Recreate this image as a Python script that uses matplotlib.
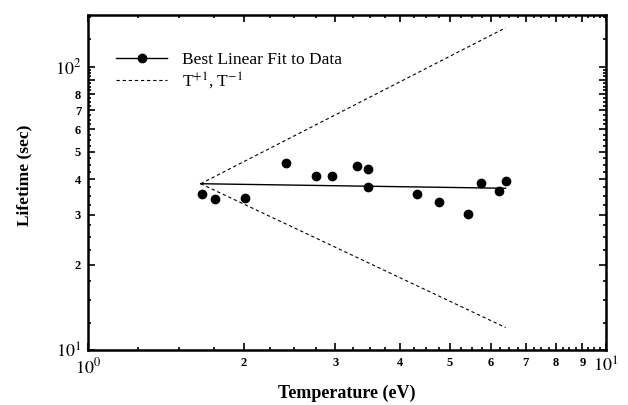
import numpy as np
import matplotlib
matplotlib.use("Agg")
import matplotlib.pyplot as plt
from matplotlib.ticker import FixedLocator, FixedFormatter

plt.rcParams['font.family'] = ['Liberation Serif', 'DejaVu Serif']
plt.rcParams['mathtext.fontset'] = 'stix'

# measured data points (temperature in eV, lifetime in sec)
temp = [1.66, 1.76, 2.01, 2.41, 2.76, 2.96, 3.31, 3.47, 3.47,
        4.31, 4.77, 5.42, 5.73, 6.22, 6.42]
lifetime = [35.5, 34.0, 34.5, 45.7, 41.1, 41.1, 44.7, 43.5, 37.5,
            35.5, 33.3, 30.2, 38.9, 36.4, 39.6]

# best linear fit endpoints
fit_t = [1.65, 6.4]
fit_life = [38.6, 37.2]

# T^+1 and T^-1 guide lines
guide_t = [1.65, 6.4]
guide_up = [38.6, 137.0]
guide_down = [38.6, 12.0]

x_major = [1, 2, 3, 4, 5, 6, 7, 8, 9, 10]
x_labels = ['$10^0$', '2', '3', '4', '5', '6', '7', '8', '9', '$10^1$']
y_major = [10, 20, 30, 40, 50, 60, 70, 80, 90, 100]
y_labels = ['$10^1$', '2', '3', '4', '5', '6', '7', '8', '', '$10^2$']

fig = plt.figure(figsize=(6.28, 4.05), dpi=100)
ax = fig.add_axes([0.1401, 0.1358, 0.8249, 0.8272])

ax.plot(temp, lifetime, 'o', color='black', markersize=6)
ax.plot(fit_t, fit_life, '-', color='black', lw=1.0)
ax.plot(guide_t, guide_up, '--', color='black', lw=0.8, dashes=(3, 2.5))
ax.plot(guide_t, guide_down, '--', color='black', lw=0.8, dashes=(3, 2.5))

# legend proxies
ax.plot([], [], '-o', color='black', lw=1.0, markersize=6, label='Best Linear Fit to Data')
ax.plot([], [], '--', color='black', lw=0.8, dashes=(3, 2.5), label=r'T$^{+1}$, T$^{-1}$')
handles, labs = ax.get_legend_handles_labels()
ax.legend(handles[-2:], labs[-2:], loc='upper left', bbox_to_anchor=(0.055, 0.89),
          frameon=False, fontsize=12.5, handlelength=2.9, handletextpad=0.9,
          borderaxespad=0, borderpad=0, labelspacing=0.1)

ax.set_xscale('log')
ax.set_yscale('log')
ax.set_xlim(1, 10)
ax.set_ylim(10, 152)

ax.xaxis.set_major_locator(FixedLocator(x_major))
ax.xaxis.set_major_formatter(FixedFormatter(x_labels))
x_minor = [v for v in np.arange(1.25, 10, 0.25) if v not in x_major]
ax.xaxis.set_minor_locator(FixedLocator(x_minor))
ax.xaxis.set_minor_formatter(FixedFormatter([''] * len(x_minor)))

ax.yaxis.set_major_locator(FixedLocator(y_major))
ax.yaxis.set_major_formatter(FixedFormatter(y_labels))
y_minor = [v for v in np.arange(12.5, 100, 2.5) if v not in y_major] + [125, 150]
ax.yaxis.set_minor_locator(FixedLocator(y_minor))
ax.yaxis.set_minor_formatter(FixedFormatter([''] * len(y_minor)))

ax.tick_params(which='both', direction='in', top=True, right=True, width=1.2)
ax.tick_params(which='major', length=5, labelsize=9, pad=5)
ax.tick_params(which='minor', length=2.5)
for lab in ax.get_xticklabels() + ax.get_yticklabels():
    lab.set_fontweight('bold')
    if '10^' in lab.get_text():
        lab.set_fontsize(13)
        lab.set_fontweight('normal')

for sp in ax.spines.values():
    sp.set_linewidth(1.8)

ax.set_xlabel('Temperature (eV)', fontsize=13, fontweight='bold')
ax.set_ylabel('Lifetime (sec)', fontsize=12.5, fontweight='bold')
ax.xaxis.set_label_coords(0.5, -0.105)
ax.yaxis.set_label_coords(-0.108, 0.522)

fig.savefig('out.png', dpi=100)
